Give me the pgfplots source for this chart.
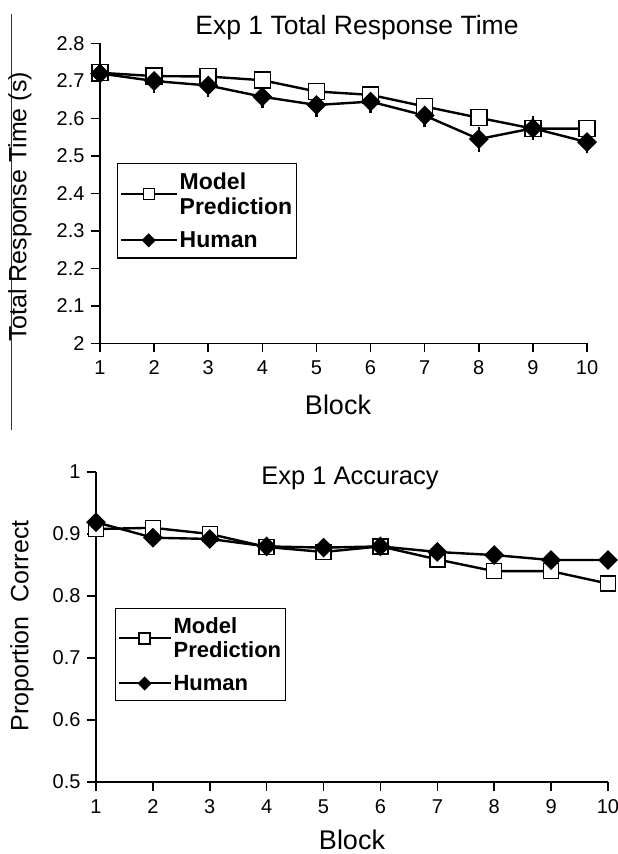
\documentclass[border=0pt]{standalone}
\usepackage{pgfplots}
\pgfplotsset{compat=1.18}
\usepackage{fontspec}
\setmainfont{Liberation Sans}
\newcommand\tickfont{\fontsize{20}{22}\selectfont}
\begin{document}
\begin{tikzpicture}
\useasboundingbox (0pt,0pt) rectangle (618pt,854pt);
\pgfplotsset{
  myax/.style={
    scale only axis, axis lines=left, axis line style={-, line width=1.5pt},
    tick align=outside, major tick length=9pt, tick style={line width=1.5pt, black},
    xmin=1, xmax=10, xtick={1,2,3,4,5,6,7,8,9,10},
    /pgf/number format/assume math mode=true,
    xticklabel={\tickfont\pgfmathprintnumber{\tick}},
    yticklabel={\tickfont\pgfmathprintnumber{\tick}},
    xticklabel style={yshift=-5pt},
    yticklabel style={xshift=-3pt},
    clip=false,
    legend style={draw=black, line width=1.3pt,
      cells={anchor=west, align=left}, row sep=12pt, inner xsep=2pt, inner ysep=7pt},
  },
  modelstyle/.style={black, line width=2.4pt, mark=square*, mark options={fill=white, solid, line width=1.5pt}, mark size=8pt},
  humanstyle/.style={black, line width=2.4pt, mark=square*, mark options={fill=black, rotate=45}, mark size=5.8pt},
}
% left border artifact
\draw[line width=1pt, black!80] (11pt,840pt) -- (11pt,424pt);

% ---------- Top panel ----------
\begin{axis}[myax, at={(100pt,510.5pt)}, anchor=south west, width=487pt, height=300pt,
  ymin=2, ymax=2.8, ytick={2,2.1,2.2,2.3,2.4,2.5,2.6,2.7,2.8},
  legend image code/.code={\draw[mark repeat=2,mark phase=2,#1] plot coordinates {(0pt,0pt) (28pt,0pt) (56pt,0pt)};},
  legend style={at={(0.035,0.602)}, anchor=north west, font=\bfseries\fontsize{23}{25}\selectfont}]
\addplot[modelstyle, forget plot] coordinates {
 (1,2.722) (2,2.713) (3,2.712) (4,2.702) (5,2.672) (6,2.663) (7,2.632) (8,2.602) (9,2.573) (10,2.573)};
\addplot[humanstyle, forget plot, error bars/.cd, y dir=both, y explicit, error mark=-,
  error bar style={line width=1.8pt}, error mark options={line width=2.4pt, mark size=5pt}] coordinates {
 (1,2.720) +- (0,0.018) (2,2.700) +- (0,0.018) (3,2.688) +- (0,0.018) (4,2.658) +- (0,0.018)
 (5,2.636) +- (0,0.018) (6,2.645) +- (0,0.018) (7,2.608) +- (0,0.018) (8,2.545) +- (0,0.020)
 (9,2.574) +- (0,0.018) (10,2.537) +- (0,0.016)};
\addlegendimage{black, line width=2pt, mark=square*, mark options={fill=white, line width=1.3pt}, mark size=5.5pt}
\addlegendentry{Model\\Prediction}
\addlegendimage{black, line width=2pt, mark=square*, mark options={fill=black, rotate=45}, mark size=4pt}
\addlegendentry{Human}
\end{axis}
\node[font=\fontsize{26.5}{30}\selectfont] at (357pt,826pt) {Exp 1 Total Response Time};
\node[font=\fontsize{27}{30}\selectfont] at (338pt,449pt) {Block};
\node[font=\fontsize{25}{30}\selectfont, rotate=90] at (20pt,647pt) {Total Response Time (s)};

% ---------- Bottom panel ----------
\begin{axis}[myax, at={(96pt,72pt)}, anchor=south west, width=512pt, height=310pt,
  ymin=0.5, ymax=1, ytick={0.5,0.6,0.7,0.8,0.9,1},
  legend image code/.code={\draw[mark repeat=2,mark phase=2,#1] plot coordinates {(0pt,0pt) (26pt,0pt) (52pt,0pt)};},
  legend style={at={(0.037,0.561)}, anchor=north west, font=\bfseries\fontsize{22}{24}\selectfont}]
\addplot[modelstyle, mark size=7.5pt, forget plot] coordinates {
 (1,0.908) (2,0.910) (3,0.900) (4,0.879) (5,0.871) (6,0.880) (7,0.859) (8,0.840) (9,0.840) (10,0.820)};
\addplot[humanstyle, forget plot] coordinates {
 (1,0.919) (2,0.894) (3,0.892) (4,0.880) (5,0.878) (6,0.880) (7,0.871) (8,0.866) (9,0.858) (10,0.858)};
\addlegendimage{black, line width=2pt, mark=square*, mark options={fill=white, line width=1.3pt}, mark size=5.5pt}
\addlegendentry{Model\\Prediction}
\addlegendimage{black, line width=2pt, mark=square*, mark options={fill=black, rotate=45}, mark size=4pt}
\addlegendentry{Human}
\end{axis}
\node[font=\fontsize{25.5}{30}\selectfont] at (350pt,376pt) {Exp 1 Accuracy};
\node[font=\fontsize{27}{30}\selectfont] at (352pt,14pt) {Block};
\node[font=\fontsize{25}{30}\selectfont, rotate=90] at (22pt,228pt) {Proportion\ \ Correct};
\end{tikzpicture}
\end{document}
